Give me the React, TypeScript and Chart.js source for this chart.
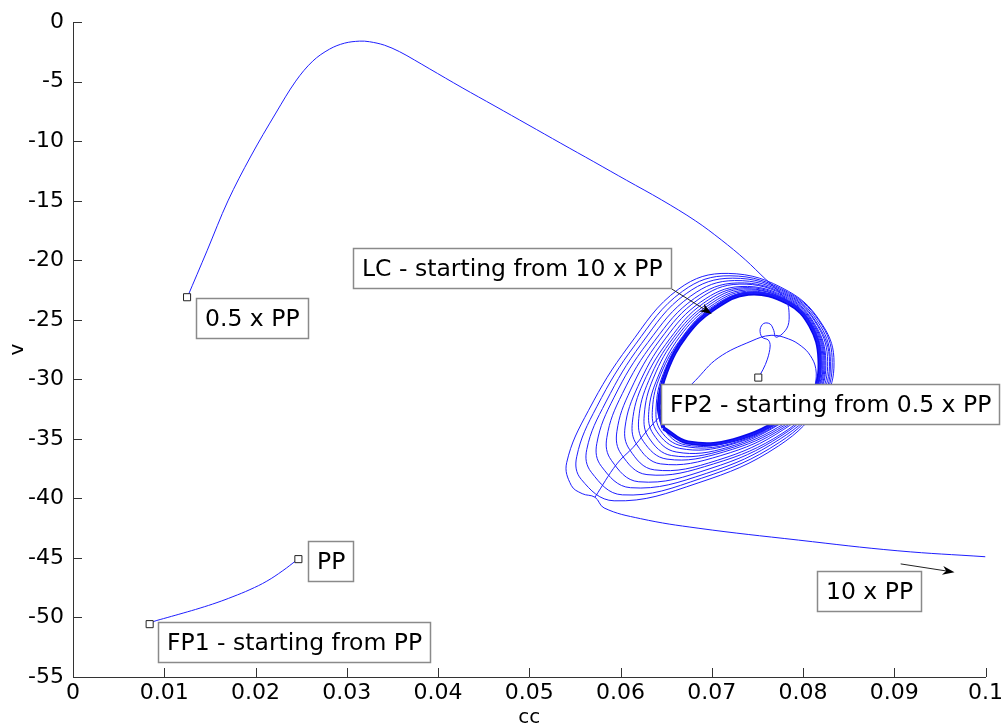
import { useEffect, useRef } from 'react';
import { Chart, registerables } from 'chart.js';

Chart.register(...registerables);

type Pt = [number, number];

// Axis ticks
const xTicks = [0, 0.01, 0.02, 0.03, 0.04, 0.05, 0.06, 0.07, 0.08, 0.09, 0.1];
const yTicks = [-55, -50, -45, -40, -35, -30, -25, -20, -15, -10, -5, 0];

// Trajectory starting at PP, converging to FP1
const ppToFp1: Pt[] = [
  [0.02474, -45.11], [0.02452, -45.19], [0.02299, -46.07], [0.02124, -46.95], [0.01939, -47.66],
  [0.01753, -48.25], [0.01578, -48.75], [0.01393, -49.21], [0.01207, -49.63], [0.01032, -50.01],
  [0.00879, -50.35], [0.00836, -50.52],
];

// Trajectory starting at 0.5 x PP, converging to FP2
const halfPpToFp2: Pt[] = [
  [0.01251, -23.14], [0.01469, -19.20], [0.01698, -15.01], [0.01950, -11.24], [0.02223, -7.63],
  [0.02441, -4.95], [0.02627, -3.27], [0.02812, -2.26], [0.02976, -1.76], [0.03140, -1.59],
  [0.03249, -1.64], [0.03413, -1.93], [0.03577, -2.47], [0.03741, -3.17], [0.03904, -3.90],
  [0.04264, -5.50], [0.04625, -7.05], [0.04986, -8.61], [0.05346, -10.17], [0.05707, -11.72],
  [0.06067, -13.28], [0.06449, -14.92], [0.06821, -16.68], [0.07104, -18.28], [0.07367, -19.95],
  [0.07585, -21.55], [0.07727, -22.55], [0.07825, -23.56], [0.07847, -24.40], [0.07836, -25.49],
  [0.0777, -26.2], [0.0770, -26.45], [0.0768, -25.9], [0.0764, -25.35], [0.0757, -25.3],
  [0.0753, -25.8], [0.0755, -26.45], [0.0762, -26.7], [0.0764, -27.2], [0.0761, -28.3],
  [0.0756, -29.2], [0.0751, -29.85],
];

// Trajectory starting at 10 x PP: inflow from the right edge
const tenPpInflow: Pt[] = [
  [0.1000, -44.9], [0.0904, -44.4], [0.0795, -43.5], [0.0685, -42.5], [0.0622, -41.7],
  [0.0582, -40.8], [0.0572, -39.9], [0.0558, -39.6],
];

// Spiral loops winding onto the limit cycle
const tenPpSpiral: Pt[] = [
  [0.0546, -38.9], [0.0541, -37.0], [0.0565, -32.6], [0.0609, -27.2], [0.0664, -22.4], [0.0718, -21.1], [0.0784, -22.6], [0.0822, -25.5], [0.0834, -28.6], [0.0822, -31.8], [0.0773, -35.6], [0.0685, -38.7], [0.0593, -40.2],
  [0.0557, -38.4], [0.0552, -36.5], [0.0574, -32.3], [0.0616, -27.1], [0.0668, -22.6], [0.0720, -21.3], [0.0784, -22.7], [0.0821, -25.5], [0.0832, -28.6], [0.0821, -31.7], [0.0774, -35.3], [0.0689, -38.3], [0.0602, -39.7],
  [0.0568, -37.8], [0.0563, -35.9], [0.0584, -31.9], [0.0623, -27.0], [0.0672, -22.8], [0.0723, -21.5], [0.0784, -22.8], [0.0819, -25.5], [0.0830, -28.5], [0.0820, -31.7], [0.0775, -35.0], [0.0694, -37.9], [0.0611, -39.1],
  [0.0579, -37.3], [0.0574, -35.4], [0.0593, -31.5], [0.0630, -26.9], [0.0677, -23.0], [0.0725, -21.7], [0.0784, -22.9], [0.0817, -25.5], [0.0829, -28.5], [0.0818, -31.6], [0.0777, -34.7], [0.0698, -37.5], [0.0620, -38.6],
  [0.0590, -36.8], [0.0585, -34.9], [0.0602, -31.2], [0.0637, -26.8], [0.0681, -23.2], [0.0728, -21.9], [0.0784, -23.0], [0.0816, -25.5], [0.0827, -28.5], [0.0817, -31.5], [0.0778, -34.5], [0.0702, -37.1], [0.0629, -38.0],
  [0.0601, -36.3], [0.0596, -34.4], [0.0611, -30.9], [0.0643, -26.7], [0.0685, -23.3], [0.0730, -22.0], [0.0784, -23.1], [0.0814, -25.5], [0.0825, -28.4], [0.0816, -31.4], [0.0779, -34.2], [0.0706, -36.8], [0.0637, -37.6],
  [0.0610, -35.9], [0.0605, -34.0], [0.0619, -30.6], [0.0649, -26.6], [0.0688, -23.5], [0.0732, -22.2], [0.0784, -23.2], [0.0813, -25.5], [0.0824, -28.4], [0.0815, -31.4], [0.0780, -34.0], [0.0710, -36.4], [0.0644, -37.1],
  [0.0618, -35.5], [0.0613, -33.6], [0.0625, -30.3], [0.0654, -26.6], [0.0691, -23.6], [0.0734, -22.3], [0.0784, -23.3], [0.0812, -25.5], [0.0823, -28.4], [0.0814, -31.3], [0.0781, -33.8], [0.0713, -36.1], [0.0651, -36.7],
  [0.0625, -35.2], [0.0620, -33.3], [0.0631, -30.1], [0.0658, -26.5], [0.0694, -23.7], [0.0735, -22.4], [0.0784, -23.4], [0.0811, -25.5], [0.0822, -28.4], [0.0813, -31.3], [0.0782, -33.6], [0.0715, -35.9], [0.0656, -36.4],
  [0.0631, -34.9], [0.0626, -33.0], [0.0636, -29.9], [0.0662, -26.4], [0.0696, -23.8], [0.0737, -22.5], [0.0784, -23.4], [0.0810, -25.5], [0.0821, -28.4], [0.0813, -31.2], [0.0782, -33.4], [0.0718, -35.7], [0.0661, -36.1],
  [0.0636, -34.6], [0.0631, -32.7], [0.0641, -29.8], [0.0665, -26.4], [0.0698, -23.9], [0.0738, -22.6], [0.0784, -23.5], [0.0810, -25.5], [0.0820, -28.3], [0.0812, -31.2], [0.0783, -33.3], [0.0720, -35.5], [0.0665, -35.8],
  [0.0640, -34.4], [0.0635, -32.5], [0.0644, -29.6], [0.0668, -26.4], [0.0699, -24.0], [0.0739, -22.7], [0.0784, -23.5], [0.0809, -25.5], [0.0819, -28.3], [0.0812, -31.2], [0.0783, -33.2], [0.0721, -35.4], [0.0668, -35.6],
  [0.0644, -34.3], [0.0639, -32.4], [0.0647, -29.5], [0.0670, -26.3], [0.0701, -24.0], [0.0739, -22.7], [0.0784, -23.6], [0.0808, -25.5], [0.0819, -28.3], [0.0811, -31.1], [0.0784, -33.1], [0.0723, -35.2], [0.0671, -35.5],
];

// Branch crossing the interior of the cycle
const innerBranch: Pt[] = [
  [0.0572, -39.9], [0.0596, -37.1], [0.0614, -35.7], [0.0636, -33.7], [0.0682, -30.1],
  [0.0707, -28.2], [0.0743, -26.8], [0.0765, -26.3], [0.0784, -26.6], [0.0798, -27.2],
  [0.0808, -28.0], [0.0814, -29.1], [0.0814, -30.5],
];

// The limit cycle (LC)
const limitCycle: Pt[] = [
  [0.0647, -34.1], [0.0642, -32.2], [0.0650, -29.4], [0.0672, -26.3], [0.0702, -24.1],
  [0.0740, -22.8], [0.0784, -23.6], [0.0808, -25.5], [0.0818, -28.3], [0.0811, -31.1],
  [0.0784, -33.0], [0.0724, -35.1], [0.0674, -35.3], [0.0647, -34.1],
];

// Start / end markers: PP, FP1, 0.5 x PP, FP2
const markers: Pt[] = [[0.0247, -45.1], [0.0084, -50.56], [0.0125, -23.1], [0.0751, -29.85]];

// Annotation texts and their box top-left anchors (data units)
const labelTexts = ['0.5 x PP', 'LC - starting from 10 x PP', 'FP2 - starting from 0.5 x PP', 'PP', 'FP1 - starting from PP', '10 x PP'];
const labelAnchors: Pt[] = [[0.0135, -23.2], [0.0307, -19.0], [0.0644, -30.35], [0.0257, -43.6], [0.0093, -50.39], [0.0815, -46.1]];
const arrowTails: Pt[] = [[0.0656, -22.4], [0.0907, -45.5]];
const arrowHeads: Pt[] = [[0.0700, -24.5], [0.0966, -46.2]];

const FONT = '"DejaVu Sans", "Liberation Sans", sans-serif';
const LINE = 'rgb(30,30,255)';
const AXIS = '#333';

const toXY = (pts: Pt[]) => pts.map(([x, y]) => ({ x, y }));

const overlayPlugin = {
  id: 'overlay',
  afterDatasetsDraw(chart: any) {
    const { ctx, scales } = chart;
    const xs = scales.x;
    const ys = scales.y;
    ctx.save();
    // inward tick marks
    ctx.strokeStyle = AXIS;
    ctx.lineWidth = 1;
    xTicks.forEach((v) => {
      const px = Math.round(xs.getPixelForValue(v)) + 0.5;
      ctx.beginPath();
      ctx.moveTo(px, ys.bottom);
      ctx.lineTo(px, ys.bottom - 9);
      ctx.stroke();
    });
    yTicks.forEach((v) => {
      const py = Math.round(ys.getPixelForValue(v)) + 0.5;
      ctx.beginPath();
      ctx.moveTo(xs.left, py);
      ctx.lineTo(xs.left + 9, py);
      ctx.stroke();
    });
    // arrows
    arrowTails.forEach((t, i) => {
      const h = arrowHeads[i];
      const x1 = xs.getPixelForValue(t[0]);
      const y1 = ys.getPixelForValue(t[1]);
      const x2 = xs.getPixelForValue(h[0]);
      const y2 = ys.getPixelForValue(h[1]);
      const ang = Math.atan2(y2 - y1, x2 - x1);
      const len = 12;
      const hw = 4.5;
      ctx.strokeStyle = '#222';
      ctx.lineWidth = 1;
      ctx.beginPath();
      ctx.moveTo(x1, y1);
      ctx.lineTo(x2 - Math.cos(ang) * len * 0.6, y2 - Math.sin(ang) * len * 0.6);
      ctx.stroke();
      ctx.fillStyle = '#000';
      ctx.beginPath();
      ctx.moveTo(x2, y2);
      ctx.lineTo(x2 - Math.cos(ang) * len - Math.sin(ang) * hw, y2 - Math.sin(ang) * len + Math.cos(ang) * hw);
      ctx.lineTo(x2 - Math.cos(ang) * len * 0.7, y2 - Math.sin(ang) * len * 0.7);
      ctx.lineTo(x2 - Math.cos(ang) * len + Math.sin(ang) * hw, y2 - Math.sin(ang) * len - Math.cos(ang) * hw);
      ctx.closePath();
      ctx.fill();
    });
    // text boxes
    ctx.font = `23.5px ${FONT}`;
    labelTexts.forEach((text, i) => {
      const px = Math.round(xs.getPixelForValue(labelAnchors[i][0])) + 0.5;
      const py = Math.round(ys.getPixelForValue(labelAnchors[i][1])) + 0.5;
      const w = Math.round(ctx.measureText(text).width + 17);
      const h = 40;
      ctx.fillStyle = '#fff';
      ctx.fillRect(px, py, w, h);
      ctx.strokeStyle = '#8a8a8a';
      ctx.lineWidth = 1.5;
      ctx.strokeRect(px, py, w, h);
      ctx.fillStyle = '#000';
      ctx.textBaseline = 'middle';
      ctx.textAlign = 'left';
      ctx.fillText(text, px + 8.5, py + h / 2 + 1);
    });
    ctx.restore();
  },
};

const fmtX = (v: number) => (v === 0 ? '0' : String(Number(v.toFixed(2))));

export default function App() {
  const ref = useRef<HTMLCanvasElement | null>(null);
  useEffect(() => {
    if (!ref.current) return;
    const lineDs = (data: Pt[], width = 1, tension = 0.4) => ({
      data: toXY(data),
      showLine: true,
      borderColor: LINE,
      borderWidth: width,
      pointRadius: 0,
      tension,
      fill: false,
    });
    const chart = new Chart(ref.current, {
      type: 'scatter',
      data: {
        datasets: [
          {
            data: toXY(markers),
            showLine: false,
            pointStyle: 'rect',
            pointRadius: 5,
            pointBorderColor: '#222',
            pointBackgroundColor: '#fff',
            pointBorderWidth: 1,
          } as any,
          lineDs(ppToFp1),
          lineDs(halfPpToFp2, 1, 0.35),
          lineDs(innerBranch),
          lineDs([...tenPpInflow, ...tenPpSpiral, ...limitCycle]),
          { ...lineDs(limitCycle, 4), borderColor: 'rgb(10,10,235)' },
        ],
      },
      options: {
        animation: false,
        responsive: true,
        maintainAspectRatio: false,
        layout: { padding: { top: 21, right: 15, left: 0, bottom: 0 } },
        plugins: { legend: { display: false }, tooltip: { enabled: false } },
        scales: {
          x: {
            type: 'linear',
            min: 0,
            max: 0.1,
            afterBuildTicks: (s: any) => {
              s.ticks = xTicks.map((value) => ({ value }));
            },
            afterFit: (s: any) => {
              s.height = 50;
            },
            ticks: {
              autoSkip: false,
              maxRotation: 0,
              padding: 3,
              color: '#000',
              font: { family: FONT, size: 22 },
              callback: (v: any) => fmtX(Number(v)),
            },
            grid: { display: false, drawTicks: false },
            border: { display: true, color: AXIS, width: 1 },
            title: { display: true, text: 'cc', color: '#000', font: { family: FONT, size: 20, lineHeight: 0.9 }, padding: { top: 0, bottom: 0 } },
          },
          y: {
            type: 'linear',
            min: -55,
            max: 0,
            afterBuildTicks: (s: any) => {
              s.ticks = yTicks.map((value) => ({ value }));
            },
            afterFit: (s: any) => {
              s.width = 73;
            },
            ticks: {
              autoSkip: false,
              padding: 9,
              color: '#000',
              font: { family: FONT, size: 22 },
              callback: (v: any) => String(v),
            },
            grid: { display: false, drawTicks: false },
            border: { display: true, color: AXIS, width: 1 },
            title: { display: true, text: 'v', color: '#000', font: { family: FONT, size: 20 }, padding: { top: 6, bottom: 0 } },
          },
        },
      },
      plugins: [overlayPlugin],
    });
    return () => chart.destroy();
  }, []);
  return (
    <div style={{ position: 'fixed', left: 0, top: 0, width: 1006, height: 727, background: '#fff' }}>
      <canvas ref={ref} />
    </div>
  );
}
